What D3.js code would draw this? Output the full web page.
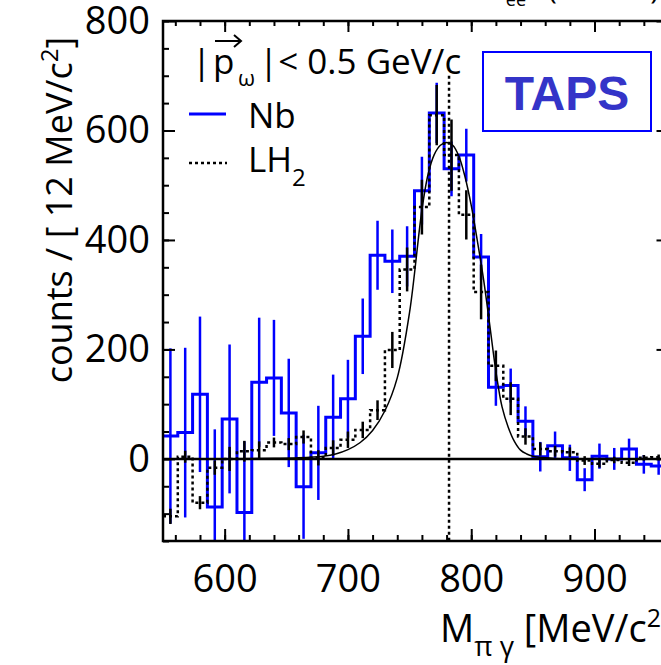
<!DOCTYPE html>
<html>
<head>
<meta charset="utf-8">
<script src="https://cdn.jsdelivr.net/npm/d3@7"></script>
<style>
  body { margin: 0; background: #fff; }
  svg { display: block; font-family: "Open Sans", sans-serif; }
</style>
</head>
<body>
<div id="chart"></div>
<script>
// histogram bin centres (12 MeV/c^2 bins)
const massBins = [556, 568, 580, 592, 604, 616, 628, 640, 652, 664, 676, 688, 700, 712, 724, 736, 748,
    760, 772, 784, 796, 808, 820, 832, 844, 856, 868, 880, 892, 904, 916, 928, 940, 952];
const binWidth = 12;

// Nb target (blue)
const nbCounts = [42, 48, 118, -88, 73, -98, 140, 148, 84, -51, 11, 76, 110, 224, 372, 361, 370,
    490, 632, 530, 555, 369, 131, 134, 69, 4, 24, 2, -38, 5, 0, 18, -10, -13];
const nbErrors = [160, 155, 142, 142, 136, 130, 118, 106, 99, 95, 86, 78, 71, 69, 63, 58, 55,
    62, 55, 50, 48, 42, 34, 31, 27, 27, 26, 24, 21, 23, 20, 19, 17, 16];

// LH2 target (black dotted)
const lh2Counts = [-105, 4, -80, -16, 0, 14, 16, 30, 27, 40, 2, 20, 35, 53, 89, 199, 346,
    460, 628, 555, 446, 305, 170, 110, 41, 18, 14, 12, -3, -9, -2, -7, 2, 3];
const lh2Errors = [14, 11, 12, 13, 22, 19, 16, 9, 11, 12, 14, 14, 15, 15, 18, 33, 40,
    50, 55, 65, 45, 50, 28, 30, 15, 12, 10, 9, 8, 7, 6, 6, 5, 5];

// fitted line shape
const fitMass = [550, 600, 640, 660, 680, 690, 700, 710, 720, 730, 740, 750, 760, 765, 770, 775,
    780, 785, 790, 795, 800, 805, 810, 815, 820, 825, 830, 835, 840, 845, 850, 860, 880, 960];
const fitCounts = [0, 0, 1, 2, 5, 9, 17, 30, 52, 88, 148, 268, 455, 520, 556, 573,
    578, 573, 553, 515, 463, 398, 328, 245, 160, 95, 58, 32, 16, 9, 5, 2, 0, 0];

const omegaMass = 782;
const xTicks = [600, 700, 800, 900];
const yTicks = [0, 200, 400, 600, 800];

const width = 661, height = 665;
const plot = { left: 163, top: 21, right: 668.5, bottom: 541 };

const x = d3.scaleLinear().domain([550, 960]).range([plot.left, plot.right]);
const y = d3.scaleLinear().domain([-150, 800]).range([plot.bottom, plot.top]);

const svg = d3.select("#chart").append("svg")
    .attr("width", width)
    .attr("height", height);

svg.append("defs").append("clipPath").attr("id", "clip")
    .append("rect")
    .attr("x", plot.left).attr("y", plot.top)
    .attr("width", plot.right - plot.left).attr("height", plot.bottom - plot.top);

// cut-off title of the neighbouring panel
const topText = svg.append("text").attr("y", -1).attr("font-size", 30).attr("fill", "#000");
topText.append("tspan").attr("x", 478).text("m");
topText.append("tspan").attr("dy", 7).attr("font-size", 18).text("ee");
topText.append("tspan").attr("x", 548).attr("dy", -7).text("(GeV/c");
topText.append("tspan").attr("font-size", 20).attr("dy", -8).text("2");
topText.append("tspan").attr("dy", 8).text(")");

const g = svg.append("g").attr("clip-path", "url(#clip)");

const hist = (vals) => {
    const pts = massBins.map((m, i) => [m - binWidth / 2, vals[i]]);
    pts.push([massBins[massBins.length - 1] + binWidth / 2, vals[vals.length - 1]]);
    return d3.line().x(d => x(d[0])).y(d => y(d[1])).curve(d3.curveStepAfter)(pts);
};

// Nb histogram
g.append("path")
    .attr("d", hist(nbCounts))
    .attr("fill", "none")
    .attr("stroke", "#0000ff")
    .attr("stroke-width", 3);

g.append("g").selectAll("line")
    .data(massBins)
    .enter().append("line")
    .attr("x1", d => x(d)).attr("x2", d => x(d))
    .attr("y1", (d, i) => y(nbCounts[i] + nbErrors[i]))
    .attr("y2", (d, i) => y(nbCounts[i] - nbErrors[i]))
    .attr("stroke", "#0000ff")
    .attr("stroke-width", 2.5);

// LH2 histogram
g.append("path")
    .attr("d", hist(lh2Counts))
    .attr("fill", "none")
    .attr("stroke", "#000")
    .attr("stroke-width", 2.5)
    .attr("stroke-dasharray", "3,3");

g.append("g").selectAll("line")
    .data(massBins)
    .enter().append("line")
    .attr("x1", d => x(d)).attr("x2", d => x(d))
    .attr("y1", (d, i) => y(lh2Counts[i] + lh2Errors[i]))
    .attr("y2", (d, i) => y(lh2Counts[i] - lh2Errors[i]))
    .attr("stroke", "#000")
    .attr("stroke-width", 2.5);

// fit
g.append("path")
    .datum(fitMass.map((m, i) => [m, fitCounts[i]]))
    .attr("d", d3.line().x(d => x(d[0])).y(d => y(d[1])).curve(d3.curveCatmullRom))
    .attr("fill", "none")
    .attr("stroke", "#000")
    .attr("stroke-width", 1.5);

// zero line
g.append("line")
    .attr("x1", plot.left).attr("x2", plot.right)
    .attr("y1", y(0)).attr("y2", y(0))
    .attr("stroke", "#000")
    .attr("stroke-width", 2.5);

// omega mass marker
g.append("line")
    .attr("x1", x(omegaMass)).attr("x2", x(omegaMass))
    .attr("y1", y(700)).attr("y2", y(-150))
    .attr("stroke", "#000")
    .attr("stroke-width", 2.5)
    .attr("stroke-dasharray", "3,3");

// axes
const styleAxis = (sel) => {
    sel.select(".domain").remove();
    sel.selectAll(".tick line").attr("stroke", "#000").attr("stroke-width", 2);
    sel.selectAll(".tick text").attr("fill", "#000");
    sel.attr("font-family", null).attr("font-size", 38);
};

const minorX = d3.range(560, 961, 20);
const minorY = d3.range(-150, 801, 50);

svg.append("g").attr("transform", `translate(0,${plot.bottom})`)
    .call(d3.axisBottom(x).tickValues(minorX).tickSizeInner(-6).tickSizeOuter(0).tickFormat(""))
    .call(styleAxis);
svg.append("g").attr("transform", `translate(0,${plot.bottom})`)
    .call(d3.axisBottom(x).tickValues(xTicks).tickSizeInner(-12).tickSizeOuter(0).tickPadding(24))
    .call(styleAxis);

svg.append("g").attr("transform", `translate(0,${plot.top})`)
    .call(d3.axisTop(x).tickValues(minorX).tickSizeInner(-5).tickSizeOuter(0).tickFormat(""))
    .call(styleAxis);
svg.append("g").attr("transform", `translate(0,${plot.top})`)
    .call(d3.axisTop(x).tickValues(xTicks).tickSizeInner(-11).tickSizeOuter(0).tickFormat(""))
    .call(styleAxis);

svg.append("g").attr("transform", `translate(${plot.left},0)`)
    .call(d3.axisLeft(y).tickValues(minorY).tickSizeInner(-6).tickSizeOuter(0).tickFormat(""))
    .call(styleAxis);
svg.append("g").attr("transform", `translate(${plot.left},0)`)
    .call(d3.axisLeft(y).tickValues(yTicks).tickSizeInner(-12).tickSizeOuter(0).tickPadding(13))
    .call(styleAxis);

svg.append("g").attr("transform", `translate(${plot.right},0)`)
    .call(d3.axisRight(y).tickValues(minorY).tickSizeInner(-6).tickSizeOuter(0).tickFormat(""))
    .call(styleAxis);
svg.append("g").attr("transform", `translate(${plot.right},0)`)
    .call(d3.axisRight(y).tickValues(yTicks).tickSizeInner(-12).tickSizeOuter(0).tickFormat(""))
    .call(styleAxis);

// frame
svg.append("rect")
    .attr("x", plot.left).attr("y", plot.top)
    .attr("width", plot.right - plot.left).attr("height", plot.bottom - plot.top)
    .attr("fill", "none")
    .attr("stroke", "#000")
    .attr("stroke-width", 2.5);

// axis titles
const yTitle = svg.append("text")
    .attr("transform", "translate(72,210) rotate(-90)")
    .attr("text-anchor", "middle")
    .attr("font-size", 36)
    .attr("fill", "#000");
yTitle.append("tspan").text("counts / [ 12 MeV/c");
yTitle.append("tspan").attr("dy", -14).attr("font-size", 24).text("2");
yTitle.append("tspan").attr("dy", 14).text("]");

const xTitle = svg.append("text")
    .attr("x", 440).attr("y", 642)
    .attr("font-size", 38)
    .attr("fill", "#000");
xTitle.append("tspan").text("M");
xTitle.append("tspan").attr("dy", 14).attr("font-size", 28).text("π γ");
xTitle.append("tspan").attr("dy", -14).text(" [MeV/c");
xTitle.append("tspan").attr("dy", -15).attr("font-size", 25).text("2");
xTitle.append("tspan").attr("dy", 15).text("]");

// legend
const legend = svg.append("g").attr("font-size", 35).attr("fill", "#000");
legend.append("text").attr("x", 201.5).attr("y", 74).attr("text-anchor", "middle").text("|");
legend.append("text").attr("x", 213).attr("y", 74).text("p");
legend.append("text").attr("x", 238).attr("y", 86).attr("font-size", 22).text("ω");
legend.append("text").attr("x", 259).attr("y", 74).text("|< 0.5 GeV/c");
legend.append("path")
    .attr("d", "M215,41 L241,41 M234,35 L241,41 L234,47")
    .attr("fill", "none")
    .attr("stroke", "#000")
    .attr("stroke-width", 2);

legend.append("line")
    .attr("x1", 189).attr("x2", 226).attr("y1", 114).attr("y2", 114)
    .attr("stroke", "#0000ff").attr("stroke-width", 3);
legend.append("text").attr("x", 248).attr("y", 128).text("Nb");

legend.append("line")
    .attr("x1", 189).attr("x2", 227).attr("y1", 163).attr("y2", 163)
    .attr("stroke", "#000").attr("stroke-width", 2.5).attr("stroke-dasharray", "3,3");
const lh2Label = legend.append("text").attr("x", 248).attr("y", 172);
lh2Label.append("tspan").text("LH");
lh2Label.append("tspan").attr("dy", 14).attr("font-size", 24).text("2");

// TAPS box
svg.append("rect")
    .attr("x", 483).attr("y", 52).attr("width", 168).attr("height", 79)
    .attr("fill", "#fff")
    .attr("stroke", "#0000ff")
    .attr("stroke-width", 2);
svg.append("text")
    .attr("x", 567).attr("y", 110)
    .attr("text-anchor", "middle")
    .attr("font-family", "'Liberation Sans', Arial, sans-serif")
    .attr("font-weight", "bold")
    .attr("font-size", 48)
    .attr("fill", "#3434c8")
    .text("TAPS");
</script>
</body>
</html>
